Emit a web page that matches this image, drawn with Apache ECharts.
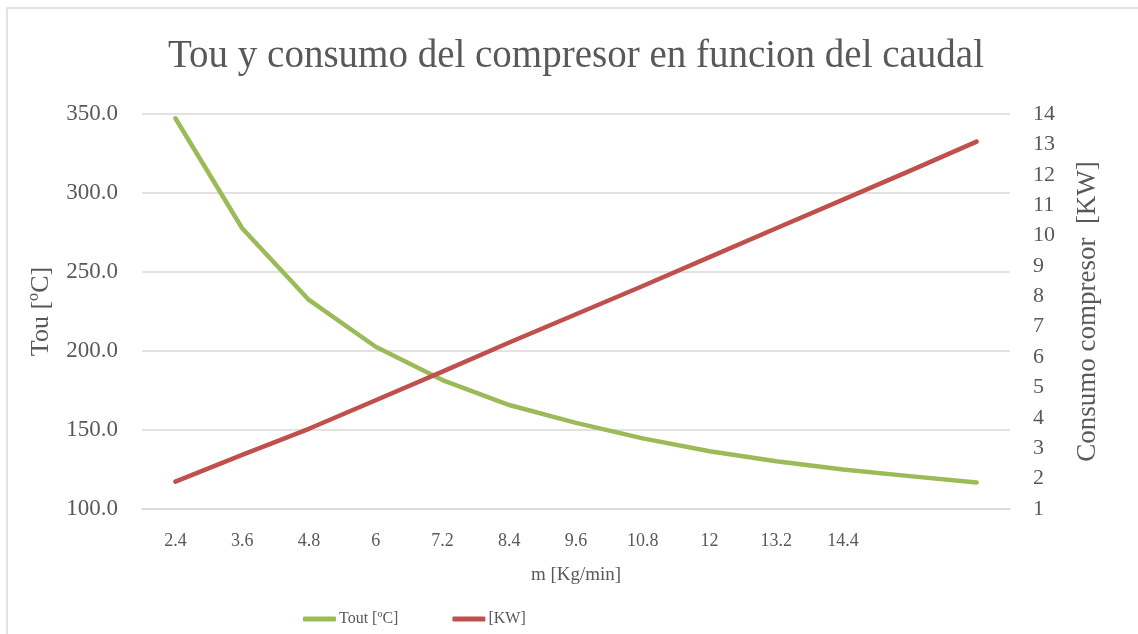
<!DOCTYPE html>
<html>
<head>
<meta charset="utf-8">
<script src="https://cdn.jsdelivr.net/npm/echarts@6/dist/echarts.min.js"></script>
<style>
  html, body { margin: 0; padding: 0; background: #ffffff; }
  #chart { width: 1138px; height: 634px; }
</style>
</head>
<body>
<div id="chart"></div>
<script>
// Mass flow categories (last two points carry no tick label)
const categories = ['2.4', '3.6', '4.8', '6', '7.2', '8.4', '9.6', '10.8', '12', '13.2', '14.4', '', ''];
// Outlet temperature [ºC]
const toutValues = [347.3, 277.7, 232.3, 202.7, 181.6, 165.8, 154.5, 144.7, 136.5, 130.2, 125.0, 120.8, 116.8];
// Compressor power [KW]
const kwValues = [1.90, 2.78, 3.64, 4.58, 5.52, 6.48, 7.41, 8.34, 9.29, 10.24, 11.18, 12.13, 13.09];

const titleText = 'Tou y consumo del compresor en funcion del caudal';
const seriesNames = ['Tout [ºC]', '[KW]'];

const FONT = '"Liberation Serif", "Times New Roman", serif';
const TXT = '#595959';
const GRID = '#d9d9d9';

const chart = echarts.init(document.getElementById('chart'), null, { renderer: 'canvas' });

chart.setOption({
  backgroundColor: '#ffffff',
  animation: false,
  graphic: [{
    type: 'rect',
    shape: { x: 7, y: 8, width: 1300, height: 800 },
    style: { fill: 'none', stroke: GRID, lineWidth: 1.5 },
    silent: true
  }],
  title: {
    text: titleText,
    left: 571,
    top: 32,
    textAlign: 'center',
    textStyle: { fontFamily: FONT, fontSize: 39, fontWeight: 'normal', color: TXT }
  },
  legend: {
    data: seriesNames,
    left: 298,
    top: 606,
    itemWidth: 33,
    itemHeight: 5,
    itemGap: 54,
    icon: 'roundRect',
    textStyle: { fontFamily: FONT, fontSize: 16, color: TXT, padding: [0, 0, 0, -2] }
  },
  grid: { left: 142, right: 128, top: 114, bottom: 125, containLabel: false },
  xAxis: {
    type: 'category',
    data: categories,
    boundaryGap: true,
    name: 'm [Kg/min]',
    nameLocation: 'middle',
    nameGap: 57,
    nameTextStyle: { fontFamily: FONT, fontSize: 19, color: TXT },
    axisLine: { show: true, lineStyle: { color: GRID, width: 1.5 } },
    axisTick: { show: false },
    axisLabel: { fontFamily: FONT, fontSize: 18, color: TXT, margin: 23, interval: 0 }
  },
  yAxis: [{
    type: 'value',
    min: 100,
    max: 350,
    interval: 50,
    name: 'Tou [ºC]',
    nameLocation: 'middle',
    nameRotate: 90,
    nameGap: 88,
    nameTextStyle: { fontFamily: FONT, fontSize: 26, color: TXT },
    axisLine: { show: false },
    axisTick: { show: false },
    splitLine: { lineStyle: { color: GRID, width: 1.5 } },
    axisLabel: {
      fontFamily: FONT, fontSize: 23, color: TXT, margin: 24,
      formatter: v => v.toFixed(1)
    }
  }, {
    type: 'value',
    min: 1,
    max: 14,
    interval: 1,
    name: 'Consumo compresor  [KW]',
    nameLocation: 'middle',
    nameRotate: 90,
    nameGap: 64,
    nameTextStyle: { fontFamily: FONT, fontSize: 27, color: TXT },
    axisLine: { show: false },
    axisTick: { show: false },
    splitLine: { show: false },
    axisLabel: { fontFamily: FONT, fontSize: 22, color: TXT, margin: 23 }
  }],
  series: [{
    name: seriesNames[0],
    type: 'line',
    yAxisIndex: 0,
    data: toutValues,
    symbol: 'none',
    color: '#9BBB59',
    lineStyle: { width: 4.5, color: '#9BBB59', cap: 'round', join: 'round' }
  }, {
    name: seriesNames[1],
    type: 'line',
    yAxisIndex: 1,
    data: kwValues,
    symbol: 'none',
    color: '#C0504D',
    lineStyle: { width: 4.5, color: '#C0504D', cap: 'round', join: 'round' }
  }]
});
</script>
</body>
</html>
